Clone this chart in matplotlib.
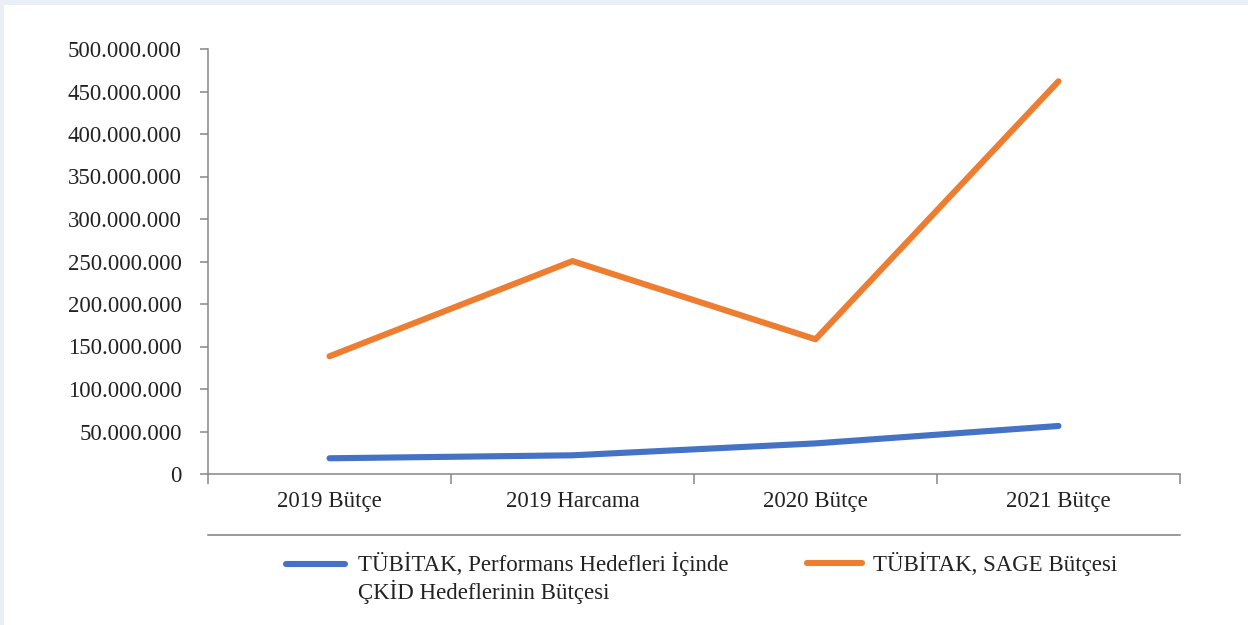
import matplotlib
matplotlib.use("Agg")
import matplotlib.pyplot as plt
from matplotlib.ticker import FuncFormatter, FixedLocator
from matplotlib.lines import Line2D
from matplotlib.patches import Rectangle
from matplotlib.legend_handler import HandlerLine2D

categories = ["2019 Bütçe", "2019 Harcama", "2020 Bütçe", "2021 Bütçe"]
ckid_budget = [18_500_000, 22_000_000, 36_000_000, 56_500_000]
sage_budget = [138_500_000, 250_500_000, 158_500_000, 462_000_000]
label_ckid = "TÜBİTAK, Performans Hedefleri İçinde\nÇKİD Hedeflerinin Bütçesi"
label_sage = "TÜBİTAK, SAGE Bütçesi"
yticks = [0, 50_000_000, 100_000_000, 150_000_000, 200_000_000,
          250_000_000, 300_000_000, 350_000_000, 400_000_000, 450_000_000, 500_000_000]

plt.rcParams['font.family'] = ['Liberation Serif', 'DejaVu Serif']
FS = 16.5
TXT = "#222222"
AX = "#868686"
BLUE = "#4472C4"
ORANGE = "#ED7D31"

W, H = 1248, 625
fig = plt.figure(figsize=(W / 100, H / 100), dpi=100)
fig.patch.set_facecolor("white")
# light border on top and left
fig.add_artist(Rectangle((0, 1 - 5 / H), 1, 5 / H, transform=fig.transFigure,
                         facecolor="#e9eff4", edgecolor="none"))
fig.add_artist(Rectangle((0, 0), 4 / W, 1, transform=fig.transFigure,
                         facecolor="#e9eff4", edgecolor="none"))

left, right, bottom, top = 208 / W, 1180 / W, 1 - 474 / H, 1 - 49 / H
ax = fig.add_axes([left, bottom, right - left, top - bottom])

x = list(range(len(categories)))
ax.plot(x, ckid_budget, color=BLUE, lw=4.4, solid_capstyle="round",
        solid_joinstyle="round", label=label_ckid)
ax.plot(x, sage_budget, color=ORANGE, lw=4.4, solid_capstyle="round",
        solid_joinstyle="round", label=label_sage)

ax.set_xlim(-0.5, len(categories) - 0.5)
ax.set_ylim(0, 500_000_000)
ax.set_yticks(yticks)
ax.yaxis.set_major_formatter(FuncFormatter(lambda v, p: f"{int(round(v)):,}".replace(",", ".")))
ax.tick_params(axis="y", length=6, width=1.1, color=AX, labelsize=FS,
               labelcolor=TXT, pad=13)

ax.xaxis.set_major_locator(FixedLocator([i - 0.5 for i in range(len(categories) + 1)]))
ax.xaxis.set_minor_locator(FixedLocator(x))
ax.set_xticklabels([], minor=False)
ax.set_xticklabels(categories, minor=True)
ax.tick_params(axis="x", which="major", length=7, width=1.1, color=AX)
ax.tick_params(axis="x", which="minor", length=0, labelsize=FS, labelcolor=TXT, pad=12.5)

for s in ["top", "right"]:
    ax.spines[s].set_visible(False)
for s in ["left", "bottom"]:
    ax.spines[s].set_color(AX)
    ax.spines[s].set_linewidth(1.1)

# separator line above legend
fig.add_artist(Line2D([left, right], [1 - 535 / H, 1 - 535 / H], transform=fig.transFigure,
                      color="#7f7f7f", lw=1.1))


class TopAlignedLine(HandlerLine2D):
    """Legend line aligned with the first line of a two-line label."""
    def __init__(self, shift, **kw):
        super().__init__(**kw)
        self.shift = shift

    def create_artists(self, legend, orig_handle, xdescent, ydescent, width, height,
                       fontsize, trans):
        arts = super().create_artists(legend, orig_handle, xdescent, ydescent, width,
                                      height, fontsize, trans)
        for a in arts:
            a.set_ydata([y + self.shift * fontsize for y in a.get_ydata()])
        return arts


handles, labels = ax.get_legend_handles_labels()
leg1 = fig.legend([handles[0]], [labels[0]], loc="upper left",
                  bbox_to_anchor=(286 / W, 1 - 552 / H), frameon=False, fontsize=FS,
                  handlelength=2.58, handletextpad=0.57, borderpad=0, borderaxespad=0,
                  handler_map={handles[0]: TopAlignedLine(0.6)})
leg2 = fig.legend([handles[1]], [labels[1]], loc="upper left",
                  bbox_to_anchor=(807 / W, 1 - 552 / H), frameon=False, fontsize=FS,
                  handlelength=2.4, handletextpad=0.48, borderpad=0, borderaxespad=0)
for lg in (leg1, leg2):
    for t in lg.get_texts():
        t.set_color(TXT)

fig.savefig("out.png", dpi=100, facecolor="white")
